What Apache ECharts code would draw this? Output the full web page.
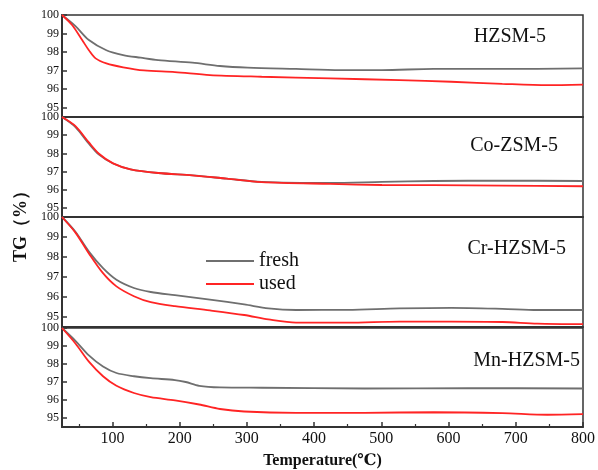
<!DOCTYPE html>
<html><head><meta charset="utf-8">
<script src="https://cdn.jsdelivr.net/npm/echarts@6/dist/echarts.min.js"></script>
<style>html,body{margin:0;padding:0;background:#fff}#c{width:598px;height:470px}</style>
</head><body><div id="c"></div>
<script>
// ---- data ----
const panelNames = ['HZSM-5', 'Co-ZSM-5', 'Cr-HZSM-5', 'Mn-HZSM-5'];
const seriesNames = ['fresh', 'used'];
const xTickLabels = [100, 200, 300, 400, 500, 600, 700, 800];
const yTickLabels = [95, 96, 97, 98, 99, 100];

const hzsmFreshT = [25,45,65,91,116,142,168,219,260,301,373,439,501,578,680,800];
const hzsmFresh  = [100,99.4,98.65,98.1,97.84,97.7,97.57,97.43,97.25,97.16,97.09,97.03,97.03,97.09,97.09,97.12];
const hzsmUsedT  = [25,40,55,65,75,91,116,147,193,245,322,424,527,604,680,747,800];
const hzsmUsed   = [100,99.46,98.65,98.1,97.66,97.39,97.18,97.01,96.92,96.76,96.67,96.58,96.49,96.4,96.29,96.22,96.25];

const coFreshT = [25,45,65,80,101,127,168,219,270,322,424,501,578,680,800];
const coFresh  = [100,99.45,98.53,97.93,97.44,97.12,96.92,96.79,96.61,96.43,96.37,96.43,96.48,96.5,96.48];
const coUsedT  = [25,45,65,80,101,127,168,219,270,322,424,501,578,680,800];
const coUsed   = [100,99.5,98.6,97.98,97.45,97.12,96.92,96.79,96.61,96.42,96.32,96.26,96.25,96.23,96.19];

const crFreshT = [25,45,65,86,106,132,157,193,245,296,332,373,450,527,604,680,732,800];
const crFresh  = [100,99.26,98.27,97.44,96.86,96.45,96.25,96.09,95.87,95.63,95.43,95.35,95.36,95.43,95.46,95.41,95.35,95.35];
const crUsedT  = [25,45,65,86,106,132,157,193,245,296,332,373,450,527,604,680,732,800];
const crUsed   = [100,99.22,98.18,97.19,96.53,96.04,95.74,95.54,95.33,95.1,94.88,94.72,94.72,94.77,94.77,94.75,94.67,94.64];

const mnFreshT = [25,45,65,86,106,132,157,193,209,229,260,322,475,629,800];
const mnFresh  = [100,99.29,98.48,97.86,97.5,97.32,97.21,97.11,97.0,96.79,96.7,96.68,96.64,96.66,96.64];
const mnUsedT  = [25,45,65,86,106,132,157,193,229,260,296,373,475,578,680,747,800];
const mnUsed   = [100,99.14,98.13,97.32,96.79,96.39,96.16,95.98,95.75,95.5,95.36,95.29,95.29,95.32,95.27,95.18,95.21];

const panels = [
  [hzsmFreshT, hzsmFresh, hzsmUsedT, hzsmUsed],
  [coFreshT, coFresh, coUsedT, coUsed],
  [crFreshT, crFresh, crUsedT, crUsed],
  [mnFreshT, mnFresh, mnUsedT, mnUsed]
];

// ---- layout ----
const SERIF = '"Liberation Serif", "DejaVu Serif", serif';
const gridTops = [15, 117, 217, 328];
const gridHeights = [102, 100, 110, 104];
const labelTops = [38, 147, 250, 362];
const labelRights = [52, 40, 32, 18];
const colors = ['#6f6f6f', '#ff2424'];

const pair = (xs, ys) => xs.map((x, i) => [x, ys[i]]);

const grids = [], xAxes = [], yAxes = [], series = [];
panels.forEach((p, i) => {
  grids.push({ left: 62, right: 15, top: gridTops[i], height: gridHeights[i],
    show: true, borderColor: '#333', borderWidth: 1.5, backgroundColor: 'transparent' });
  const bottom = i === 3;
  xAxes.push({ type: 'value', gridIndex: i, min: 25, max: 800,
    minInterval: 100, maxInterval: 100,
    axisLine: { show: true, lineStyle: { color: '#333', width: 2 } },
    axisTick: { show: bottom, inside: true, length: 5, lineStyle: { color: '#333', width: 1.5 } },
    minorTick: { show: bottom, splitNumber: 2, length: 3, lineStyle: { color: '#333', width: 1.2 } },
    axisLabel: { show: bottom, showMinLabel: false, color: '#111', fontFamily: SERIF, fontSize: 16, margin: 4,
      formatter: v => (xTickLabels.includes(v) ? String(v) : '') },
    splitLine: { show: false },
    name: bottom ? 'Temperature(\u2103)' : '', nameLocation: 'middle', nameGap: 26,
    nameTextStyle: { fontFamily: SERIF, fontWeight: 'bold', fontSize: 16, color: '#111' }
  });
  yAxes.push({ type: 'value', gridIndex: i, min: 94.5, max: 100,
    minInterval: 1, maxInterval: 1,
    axisLine: { show: true, lineStyle: { color: '#333', width: 2 } },
    axisTick: { show: true, inside: true, length: 5, lineStyle: { color: '#333', width: 1.5 } },
    axisLabel: { showMinLabel: false, color: '#111', fontFamily: SERIF, fontSize: 12, margin: 3,
      formatter: v => (yTickLabels.includes(v) ? String(v) : '') },
    splitLine: { show: false }
  });
  series.push({ name: seriesNames[0], type: 'line', xAxisIndex: i, yAxisIndex: i,
    data: pair(p[0], p[1]), showSymbol: false, smooth: 0.3,
    lineStyle: { color: colors[0], width: 1.8 }, itemStyle: { color: colors[0] }, z: 2 });
  series.push({ name: seriesNames[1], type: 'line', xAxisIndex: i, yAxisIndex: i,
    data: pair(p[2], p[3]), showSymbol: false, smooth: 0.3,
    lineStyle: { color: colors[1], width: 1.8 }, itemStyle: { color: colors[1] }, z: 3 });
});

const graphics = panelNames.map((n, i) => ({
  type: 'text', right: labelRights[i], top: labelTops[i] - 11,
  style: { text: n, fontFamily: SERIF, fontSize: 20, fill: '#111' }
}));
graphics.push({ type: 'text', x: 21, y: 222, rotation: Math.PI / 2,
  style: { text: 'TG\uFF08%\uFF09', fontFamily: SERIF, fontWeight: 'bold', fontSize: 18, fill: '#111',
    align: 'center', verticalAlign: 'middle' } });

const chart = echarts.init(document.getElementById('c'), null, { renderer: 'canvas' });
chart.setOption({
  animation: false,
  backgroundColor: '#fff',
  grid: grids, xAxis: xAxes, yAxis: yAxes, series: series,
  legend: { data: seriesNames, orient: 'vertical', left: 201, top: 246, itemWidth: 48, itemHeight: 2,
    icon: 'rect', itemGap: 3, textStyle: { fontFamily: SERIF, fontSize: 20, color: '#111' } },
  graphic: graphics
});
</script></body></html>
